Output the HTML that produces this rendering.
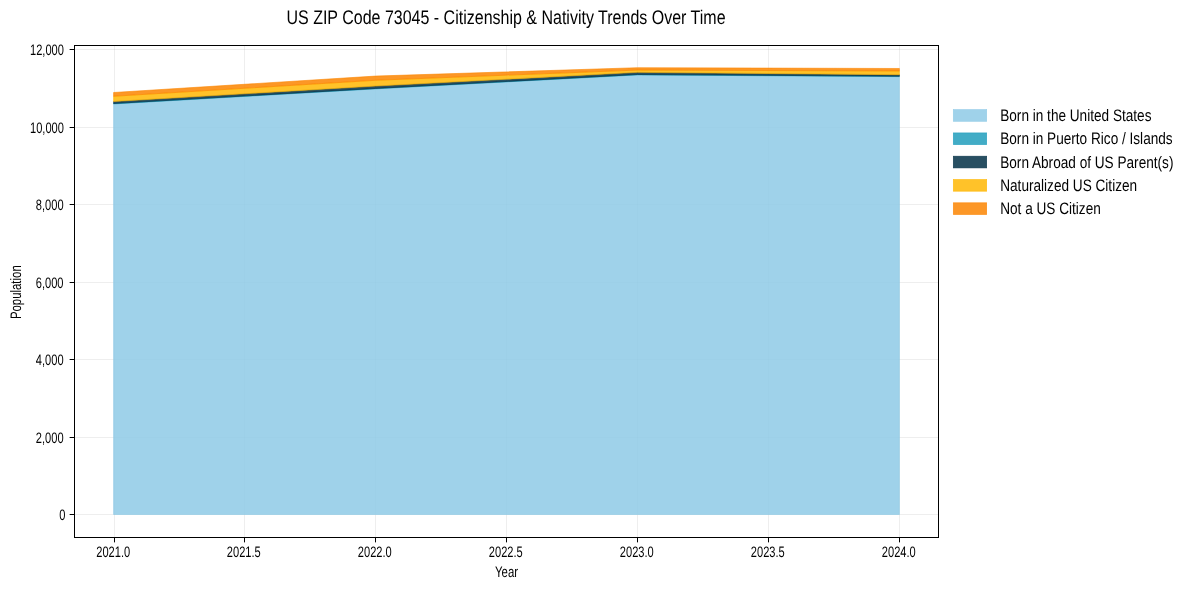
<!DOCTYPE html>
<html><head><meta charset="utf-8"><title>US ZIP Code 73045 - Citizenship &amp; Nativity Trends Over Time</title>
<style>html,body{margin:0;padding:0;background:#fff;width:1189px;height:590px;overflow:hidden}svg{display:block}</style>
</head><body>
<svg width="1189" height="590" viewBox="0 0 1189 590">
<rect width="1189" height="590" fill="#fff"/>
<g stroke="#b0b0b0" stroke-opacity="0.22" stroke-width="1"><line x1="114.5" y1="45.5" x2="114.5" y2="537.5"/><line x1="244.5" y1="45.5" x2="244.5" y2="537.5"/><line x1="375.5" y1="45.5" x2="375.5" y2="537.5"/><line x1="506.5" y1="45.5" x2="506.5" y2="537.5"/><line x1="637.5" y1="45.5" x2="637.5" y2="537.5"/><line x1="768.5" y1="45.5" x2="768.5" y2="537.5"/><line x1="899.5" y1="45.5" x2="899.5" y2="537.5"/><line x1="74.5" y1="514.5" x2="938.5" y2="514.5"/><line x1="74.5" y1="437.5" x2="938.5" y2="437.5"/><line x1="74.5" y1="359.5" x2="938.5" y2="359.5"/><line x1="74.5" y1="282.5" x2="938.5" y2="282.5"/><line x1="74.5" y1="204.5" x2="938.5" y2="204.5"/><line x1="74.5" y1="127.5" x2="938.5" y2="127.5"/><line x1="74.5" y1="49.5" x2="938.5" y2="49.5"/></g>
<g><path d="M113.60 103.91 L375.53 88.83 L637.46 74.88 L899.39 76.59 L899.39 514.50 L637.46 514.50 L375.53 514.50 L113.60 514.50 Z" fill="#8ecae6" fill-opacity="0.85" stroke="#8ecae6" stroke-opacity="0.85" stroke-width="0.69" stroke-linejoin="round"/><path d="M113.60 103.52 L375.53 88.44 L637.46 74.49 L899.39 76.20 L899.39 76.59 L637.46 74.88 L375.53 88.83 L113.60 103.91 Z" fill="#219ebc" fill-opacity="0.85" stroke="#219ebc" stroke-opacity="0.85" stroke-width="0.69" stroke-linejoin="round"/><path d="M113.60 101.50 L375.53 86.08 L637.46 72.36 L899.39 74.69 L899.39 76.20 L637.46 74.49 L375.53 88.44 L113.60 103.52 Z" fill="#023047" fill-opacity="0.85" stroke="#023047" stroke-opacity="0.85" stroke-width="0.69" stroke-linejoin="round"/><path d="M113.60 96.27 L375.53 80.27 L637.46 70.08 L899.39 70.97 L899.39 74.69 L637.46 72.36 L375.53 86.08 L113.60 101.50 Z" fill="#ffb703" fill-opacity="0.85" stroke="#ffb703" stroke-opacity="0.85" stroke-width="0.69" stroke-linejoin="round"/><path d="M113.60 92.51 L375.53 76.08 L637.46 67.71 L899.39 68.49 L899.39 70.97 L637.46 70.08 L375.53 80.27 L113.60 96.27 Z" fill="#fb8500" fill-opacity="0.85" stroke="#fb8500" stroke-opacity="0.85" stroke-width="0.69" stroke-linejoin="round"/></g>
<g stroke="#000" stroke-width="1"><line x1="114.5" y1="537.5" x2="114.5" y2="542.36"/><line x1="244.5" y1="537.5" x2="244.5" y2="542.36"/><line x1="375.5" y1="537.5" x2="375.5" y2="542.36"/><line x1="506.5" y1="537.5" x2="506.5" y2="542.36"/><line x1="637.5" y1="537.5" x2="637.5" y2="542.36"/><line x1="768.5" y1="537.5" x2="768.5" y2="542.36"/><line x1="899.5" y1="537.5" x2="899.5" y2="542.36"/><line x1="69.64" y1="514.5" x2="74.5" y2="514.5"/><line x1="69.64" y1="437.5" x2="74.5" y2="437.5"/><line x1="69.64" y1="359.5" x2="74.5" y2="359.5"/><line x1="69.64" y1="282.5" x2="74.5" y2="282.5"/><line x1="69.64" y1="204.5" x2="74.5" y2="204.5"/><line x1="69.64" y1="127.5" x2="74.5" y2="127.5"/><line x1="69.64" y1="49.5" x2="74.5" y2="49.5"/></g>
<rect x="74.5" y="45.5" width="864" height="492" fill="none" stroke="#000" stroke-width="1"/>
<g fill="#000" font-family="'Liberation Sans', Arial, sans-serif" style="text-rendering:geometricPrecision;opacity:0.999"><text transform="translate(113.20 556.50) scale(0.73 1)" font-size="15.2" text-anchor="middle">2021.0</text><text transform="translate(243.80 556.50) scale(0.73 1)" font-size="15.2" text-anchor="middle">2021.5</text><text transform="translate(374.80 556.50) scale(0.73 1)" font-size="15.2" text-anchor="middle">2022.0</text><text transform="translate(505.80 556.50) scale(0.73 1)" font-size="15.2" text-anchor="middle">2022.5</text><text transform="translate(636.80 556.50) scale(0.73 1)" font-size="15.2" text-anchor="middle">2023.0</text><text transform="translate(767.80 556.50) scale(0.73 1)" font-size="15.2" text-anchor="middle">2023.5</text><text transform="translate(898.80 556.50) scale(0.73 1)" font-size="15.2" text-anchor="middle">2024.0</text><text transform="translate(65.40 519.50) scale(0.73 1)" font-size="15.2" text-anchor="end">0</text><text transform="translate(63.55 442.50) scale(0.73 1)" font-size="15.2" text-anchor="end">2,000</text><text transform="translate(63.55 364.50) scale(0.73 1)" font-size="15.2" text-anchor="end">4,000</text><text transform="translate(63.50 287.50) scale(0.73 1)" font-size="15.2" text-anchor="end">6,000</text><text transform="translate(63.55 209.50) scale(0.73 1)" font-size="15.2" text-anchor="end">8,000</text><text transform="translate(63.90 132.50) scale(0.73 1)" font-size="15.2" text-anchor="end">10,000</text><text transform="translate(63.90 54.50) scale(0.73 1)" font-size="15.2" text-anchor="end">12,000</text><text transform="translate(506.00 23.90) scale(0.809 1)" font-size="19.8" text-anchor="middle">US ZIP Code 73045 - Citizenship &amp; Nativity Trends Over Time</text><text transform="translate(506.50 576.50) scale(0.75 1)" font-size="15.2" text-anchor="middle">Year</text><text transform="translate(20.80 292.20) rotate(-90) scale(0.75 1)" font-size="15.2" text-anchor="middle">Population</text><rect x="953.33" y="109.62" width="33.33" height="11.67" fill="#8ecae6" fill-opacity="0.85" stroke="#8ecae6" stroke-opacity="0.85" stroke-width="0.69"/><text transform="translate(1000.20 121.12) scale(0.817 1)" font-size="16.67" text-anchor="start">Born in the United States</text><rect x="953.33" y="132.92" width="33.33" height="11.67" fill="#219ebc" fill-opacity="0.85" stroke="#219ebc" stroke-opacity="0.85" stroke-width="0.69"/><text transform="translate(1000.20 144.42) scale(0.817 1)" font-size="16.67" text-anchor="start">Born in Puerto Rico / Islands</text><rect x="953.33" y="156.22" width="33.33" height="11.67" fill="#023047" fill-opacity="0.85" stroke="#023047" stroke-opacity="0.85" stroke-width="0.69"/><text transform="translate(1000.20 167.72) scale(0.817 1)" font-size="16.67" text-anchor="start">Born Abroad of US Parent(s)</text><rect x="953.33" y="179.52" width="33.33" height="11.67" fill="#ffb703" fill-opacity="0.85" stroke="#ffb703" stroke-opacity="0.85" stroke-width="0.69"/><text transform="translate(1000.20 191.02) scale(0.817 1)" font-size="16.67" text-anchor="start">Naturalized US Citizen</text><rect x="953.33" y="202.81" width="33.33" height="11.67" fill="#fb8500" fill-opacity="0.85" stroke="#fb8500" stroke-opacity="0.85" stroke-width="0.69"/><text transform="translate(1000.20 214.31) scale(0.817 1)" font-size="16.67" text-anchor="start">Not a US Citizen</text></g>
</svg>
</body></html>
